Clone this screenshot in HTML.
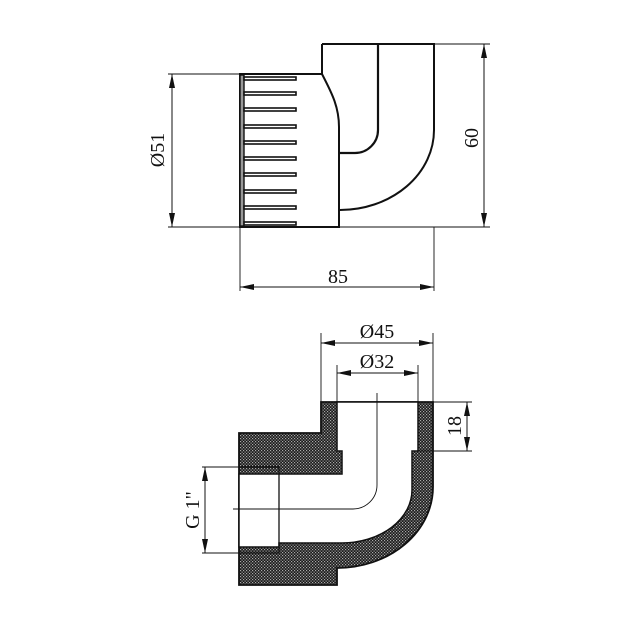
<!DOCTYPE html>
<html><head><style>body{margin:0;background:#fff}svg{display:block}text{font-family:"Liberation Serif",serif;font-size:20px;fill:#111}</style></head>
<body>
<svg width="630" height="630" viewBox="0 0 630 630" xmlns="http://www.w3.org/2000/svg">
<defs>
<pattern id="h" width="3" height="3" patternUnits="userSpaceOnUse">
<rect width="3" height="3" fill="#1a1a1a"/><rect x="0" y="0" width="1.2" height="1.2" fill="#aaa"/><rect x="1.5" y="1.5" width="1.2" height="1.2" fill="#aaa"/>
</pattern>
<marker id="a" markerWidth="14" markerHeight="8" refX="14" refY="4" orient="auto" markerUnits="userSpaceOnUse"><path d="M0,1 L14,4 L0,7 Z" fill="#111"/></marker>
</defs>
<g fill="none" stroke="#111" stroke-width="1">
<path d="M322,44 L434,44 L434,130 A94,80 0 0 1 340,210" stroke-width="2"/>
<path d="M322,44 L322,74" stroke-width="2"/>
<path d="M378,44 L378,130 A23,23 0 0 1 355,153 L340,153" stroke-width="2.2"/>
<path d="M240,74 L322,74 C330,90 339,105 339,127 L339,227 L240,227 Z" stroke-width="2"/>
<rect x="240" y="75" width="4" height="151" fill="#999" stroke-width="1.4"/>
<g stroke-width="1.6" fill="#fff">
<rect x="244" y="77" width="52" height="3"/><rect x="244" y="92" width="52" height="3"/>
<rect x="244" y="108" width="52" height="3"/><rect x="244" y="125" width="52" height="3"/>
<rect x="244" y="141" width="52" height="3"/><rect x="244" y="157" width="52" height="3"/>
<rect x="244" y="173" width="52" height="3"/><rect x="244" y="190" width="52" height="3"/>
<rect x="244" y="206" width="52" height="3"/><rect x="244" y="222" width="52" height="3"/>
</g>
<path d="M168,74 L240,74 M168,227 L240,227 M434,44 L490,44 M340,227 L490,227 M240,227 L240,291 M434,227 L434,291" stroke-width="0.9"/>
<line x1="172" y1="150" x2="172" y2="74" marker-end="url(#a)"/>
<line x1="172" y1="150" x2="172" y2="227" marker-end="url(#a)"/>
<line x1="484" y1="135" x2="484" y2="44" marker-end="url(#a)"/>
<line x1="484" y1="135" x2="484" y2="227" marker-end="url(#a)"/>
<line x1="337" y1="287" x2="240" y2="287" marker-end="url(#a)"/>
<line x1="337" y1="287" x2="434" y2="287" marker-end="url(#a)"/>
<path d="M239,433 L321,433 L321,402 L433,402 L433,487 A96,81 0 0 1 337,568 L337,585 L239,585 Z" fill="url(#h)" stroke-width="1.8"/>
<path d="M337,402 L418,402 L418,451 L412,451 L412,490 A70,53 0 0 1 342,543 L279,543 L279,547 L239,547 L239,474 L342,474 L342,451 L337,451 Z" fill="#fff" stroke-width="1.5"/>
<path d="M239,467 L279,467 L279,553 L239,553" stroke-width="1.3"/>
<path d="M377,393 L377,485 A24,24 0 0 1 353,509 L233,509" stroke-width="0.9"/>
<path d="M321,333 L321,402 M433,333 L433,402 M337,365 L337,402 M418,365 L418,402 M433,402 L472,402 M418,451 L472,451 M202,467 L239,467 M202,553 L239,553" stroke-width="0.9"/>
<line x1="377" y1="343" x2="321" y2="343" marker-end="url(#a)"/>
<line x1="377" y1="343" x2="433" y2="343" marker-end="url(#a)"/>
<line x1="377" y1="373" x2="337" y2="373" marker-end="url(#a)"/>
<line x1="377" y1="373" x2="418" y2="373" marker-end="url(#a)"/>
<line x1="467" y1="426" x2="467" y2="402" marker-end="url(#a)"/>
<line x1="467" y1="426" x2="467" y2="451" marker-end="url(#a)"/>
<line x1="205" y1="510" x2="205" y2="467" marker-end="url(#a)"/>
<line x1="205" y1="510" x2="205" y2="553" marker-end="url(#a)"/>
</g>
<text x="164" y="150" text-anchor="middle" transform="rotate(-90 164 150)">Ø51</text>
<text x="478" y="138" text-anchor="middle" transform="rotate(-90 478 138)">60</text>
<text x="338" y="283" text-anchor="middle">85</text>
<text x="377" y="338" text-anchor="middle">Ø45</text>
<text x="377" y="368" text-anchor="middle">Ø32</text>
<text x="461" y="426" text-anchor="middle" transform="rotate(-90 461 426)">18</text>
<text x="199" y="510" text-anchor="middle" transform="rotate(-90 199 510)">G 1"</text>
</svg>
</body></html>
